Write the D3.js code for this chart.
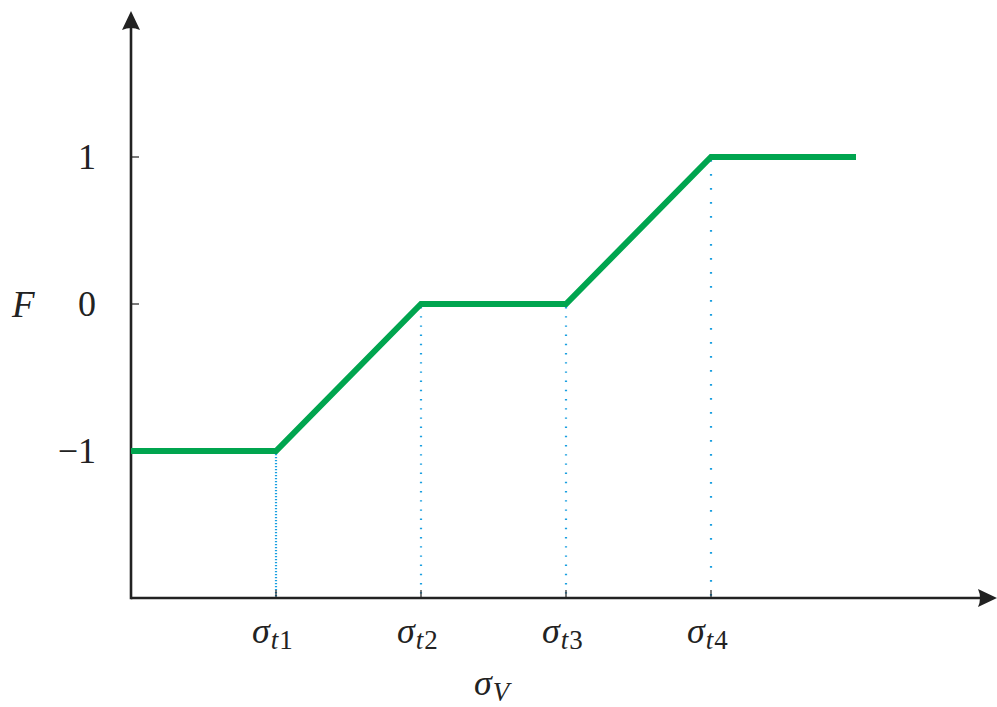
<!DOCTYPE html>
<html>
<head>
<meta charset="utf-8">
<script src="https://cdn.jsdelivr.net/npm/d3@7"></script>
<style>
  html, body { margin: 0; padding: 0; background: #fff; }
  svg { display: block; }
  text { font-family: "Liberation Serif", "DejaVu Serif", serif; fill: #222; }
</style>
</head>
<body>
<svg id="chart" width="997" height="707"></svg>
<script>
// Piecewise-linear response F over σ_V
const xValues = [0, 1, 2, 3, 4, 5];
const fValues = [-1, -1, 0, 0, 1, 1];

// Threshold positions along σ_V and their labels
const thresholds = [1, 2, 3, 4];
const thresholdSubs = ["1", "2", "3", "4"];
// dash pattern for each threshold guide
const guideDashes = ["1.2,1.8", "1.4,7.8", "1.4,7.8", "1.7,12.3"];

const yTicks = [1, 0, -1];
const yTickLabels = ["1", "0", "\u22121"];

const svg = d3.select("#chart");

const x = d3.scaleLinear().domain([0, 6]).range([131, 1001]);
const y = d3.scaleLinear().domain([-2, 2]).range([598, 10]);

const axisColor = "#222";
const green = "#00a54f";
const blue = "#1a9fe0";

// threshold guides (dotted verticals)
svg.append("g").selectAll("line")
  .data(thresholds)
  .join("line")
  .attr("x1", d => x(d)).attr("x2", d => x(d))
  .attr("y1", d => y(fValues[xValues.indexOf(d)]) + 3)
  .attr("y2", y(-2))
  .attr("stroke", blue)
  .attr("stroke-width", 2.2)
  .attr("stroke-dasharray", (d, i) => guideDashes[i]);

// axes
const axes = svg.append("g");
axes.append("line")
  .attr("x1", x(0)).attr("x2", 982)
  .attr("y1", y(-2)).attr("y2", y(-2))
  .attr("stroke", axisColor).attr("stroke-width", 2.6);
axes.append("line")
  .attr("x1", x(0)).attr("x2", x(0))
  .attr("y1", y(-2) + 1.3).attr("y2", 28)
  .attr("stroke", axisColor).attr("stroke-width", 2.6);

// arrowheads (pointing right at origin)
const arrowPath = "M0,0 L-19,-9 Q-15,0 -19,9 Z";
axes.append("path")
  .attr("d", arrowPath)
  .attr("transform", `translate(997,${y(-2)})`)
  .attr("fill", axisColor);
axes.append("path")
  .attr("d", arrowPath)
  .attr("transform", `translate(${x(0)},11) rotate(-90)`)
  .attr("fill", axisColor);

// tick marks
axes.selectAll(".yt").data(yTicks).join("line")
  .attr("class", "yt")
  .attr("x1", x(0)).attr("x2", x(0) + 8)
  .attr("y1", d => y(d)).attr("y2", d => y(d))
  .attr("stroke", axisColor).attr("stroke-width", 1.2);
axes.selectAll(".xt").data(thresholds).join("line")
  .attr("class", "xt")
  .attr("x1", d => x(d)).attr("x2", d => x(d))
  .attr("y1", y(-2)).attr("y2", y(-2) - 8)
  .attr("stroke", axisColor).attr("stroke-width", 1.2);

// the response curve
const line = d3.line().x((d, i) => x(xValues[i])).y(d => y(d));
svg.append("path")
  .datum(fValues)
  .attr("d", line)
  .attr("fill", "none")
  .attr("stroke", green)
  .attr("stroke-width", 6)
  .attr("stroke-linejoin", "miter");

// y tick labels
svg.selectAll(".ylab").data(yTicks).join("text")
  .attr("class", "ylab")
  .attr("x", 96)
  .attr("y", d => y(d) + 12)
  .attr("text-anchor", "end")
  .attr("font-size", 36)
  .text((d, i) => yTickLabels[i]);

// y axis title
svg.append("text")
  .attr("x", 12).attr("y", y(0) + 13)
  .attr("font-size", 37)
  .attr("font-style", "italic")
  .text("F");

// x tick labels σ_{t i}
const xl = svg.selectAll(".xlab").data(thresholds).join("text")
  .attr("class", "xlab")
  .attr("x", d => x(d) - 24)
  .attr("y", 643)
  .attr("font-size", 36);
xl.append("tspan").attr("font-style", "italic").text("\u03c3");
xl.append("tspan").attr("font-style", "italic").attr("font-size", 27).attr("dx", 1).attr("dy", 6).text("t");
xl.append("tspan").attr("font-size", 27).attr("dx", 1).text((d, i) => thresholdSubs[i]);

// x axis title σ_V
const xt = svg.append("text")
  .attr("x", 474).attr("y", 695)
  .attr("font-size", 36);
xt.append("tspan").attr("font-style", "italic").text("\u03c3");
xt.append("tspan").attr("font-style", "italic").attr("font-size", 27).attr("dx", 1).attr("dy", 6).text("V");
</script>
</body>
</html>
